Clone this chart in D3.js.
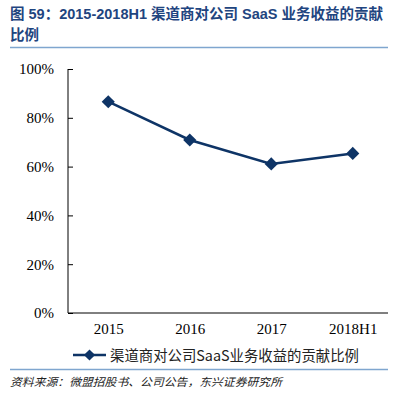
<!DOCTYPE html>
<html><head><meta charset="utf-8">
<script src="https://cdn.jsdelivr.net/npm/d3@7"></script>
<style>body{margin:0;background:#fff}</style>
</head><body>
<svg id="c" width="400" height="394"></svg>
<script>
const categories = ["2015", "2016", "2017", "2018H1"];
const values = [86.6, 70.9, 61.1, 65.4];
const yTicks = [0, 20, 40, 60, 80, 100];
const seriesName = "渠道商对公司SaaS业务收益的贡献比例";
const titleLines = ["图 59：2015-2018H1 渠道商对公司 SaaS 业务收益的贡献", "比例"];
const sourceText = "资料来源：微盟招股书、公司公告，东兴证券研究所";

const svg = d3.select("#c");
const navy = "#0e3466";
const titleColor = "#1f4580";
const ruleColor = "#7fa6cf";
const serif = "'Liberation Serif','DejaVu Serif',serif";
const cjk = "'Noto Sans CJK SC','Noto Sans',sans-serif";

// Title
svg.selectAll("text.title").data(titleLines).join("text")
  .attr("x", 10).attr("y", (d,i) => 19 + i*21)
  .attr("font-family", "'Liberation Sans'," + cjk)
  .attr("font-weight", "bold").attr("font-size", 14.5)
  .attr("fill", titleColor)
  .attr("textLength", (d,i) => i === 0 ? 373 : null)
  .attr("lengthAdjust", "spacingAndGlyphs")
  .text(d => d);
svg.append("line").attr("x1", 10).attr("x2", 388).attr("y1", 47.5).attr("y2", 47.5)
  .attr("stroke", ruleColor).attr("stroke-width", 1.5);

const x = d3.scaleBand().domain(categories).range([68, 394]);
const y = d3.scaleLinear().domain([0, 100]).range([313, 69]);

// Y axis
const yAxis = d3.axisLeft(y).tickValues(yTicks).tickSize(-5).tickPadding(14)
  .tickFormat(d => d + "%");
const ga = svg.append("g").attr("transform", "translate(68,0)").call(yAxis);
ga.select(".domain").attr("stroke", "#000").attr("d", "M0," + y(100) + "V" + y(0));
ga.selectAll(".tick line").attr("stroke", "#000");
ga.selectAll(".tick text").attr("font-family", serif).attr("font-size", 15).attr("fill", "#000");

// X axis
const xAxis = d3.axisBottom(x).tickSize(0).tickPadding(10);
const gx = svg.append("g").attr("transform", "translate(0," + y(0) + ")").call(xAxis);
gx.select(".domain").attr("stroke", "#000").attr("d", "M68,0H388");
gx.selectAll(".tick text").attr("font-family", serif).attr("font-size", 15).attr("fill", "#000");

// Line
const cx = d => x(d) + x.bandwidth()/2 - 0.5;
const line = d3.line().x((d,i) => cx(categories[i])).y(d => y(d));
svg.append("path").datum(values).attr("d", line)
  .attr("fill", "none").attr("stroke", navy).attr("stroke-width", 2.5);
const diamond = d3.symbol().type(d3.symbolDiamond2).size(110);
svg.selectAll("path.pt").data(values).join("path").attr("class", "pt")
  .attr("transform", (d,i) => "translate(" + cx(categories[i]) + "," + y(d) + ")")
  .attr("d", diamond).attr("fill", navy);

// Legend
svg.append("line").attr("x1", 73).attr("x2", 106).attr("y1", 355).attr("y2", 355)
  .attr("stroke", navy).attr("stroke-width", 2.5);
svg.append("path").attr("transform", "translate(89.5,355)")
  .attr("d", d3.symbol().type(d3.symbolDiamond2).size(80)).attr("fill", navy);
svg.append("text").attr("x", 110).attr("y", 360.5)
  .attr("font-family", cjk).attr("font-size", 14.5).attr("fill", "#222")
  .attr("textLength", 249).attr("lengthAdjust", "spacingAndGlyphs")
  .text(seriesName);

svg.append("line").attr("x1", 10).attr("x2", 388).attr("y1", 369.5).attr("y2", 369.5)
  .attr("stroke", ruleColor).attr("stroke-width", 1.5);
svg.append("text").attr("x", 10).attr("y", 386)
  .attr("font-family", cjk).attr("font-size", 11).attr("font-style", "italic")
  .attr("fill", "#222").attr("textLength", 272).attr("lengthAdjust", "spacingAndGlyphs")
  .text(sourceText);
</script>
</body></html>
